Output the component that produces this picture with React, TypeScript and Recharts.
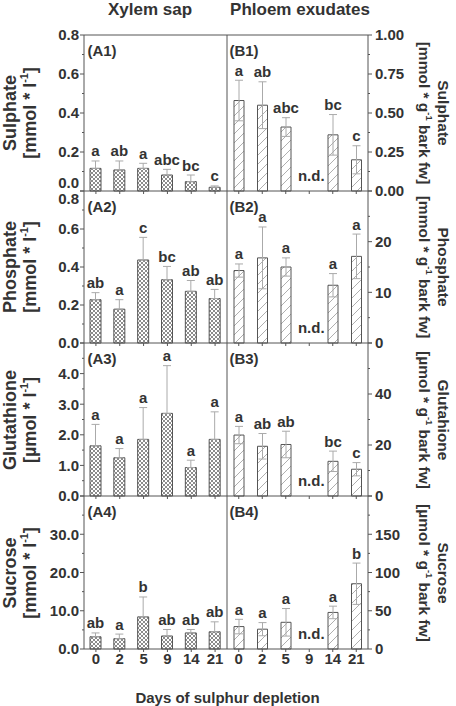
import React from "react";
import { BarChart, Bar, XAxis, YAxis, ErrorBar, LabelList, ReferenceLine } from "recharts";

const days = ["0", "2", "5", "9", "14", "21"];

// Xylem sap (left column), mean and SD
const sulphateXylem = [0.116, 0.108, 0.116, 0.082, 0.048, 0.019];
const sulphateXylemErr = [0.038, 0.046, 0.026, 0.029, 0.034, 0.007];
const sulphateXylemSig = ["a", "ab", "a", "abc", "bc", "c"];

const phosphateXylem = [0.228, 0.178, 0.437, 0.333, 0.272, 0.234];
const phosphateXylemErr = [0.037, 0.05, 0.119, 0.07, 0.057, 0.048];
const phosphateXylemSig = ["ab", "a", "c", "bc", "ab", "ab"];

const glutathioneXylem = [1.64, 1.25, 1.85, 2.7, 0.93, 1.85];
const glutathioneXylemErr = [0.7, 0.3, 1.04, 1.56, 0.24, 0.9];
const glutathioneXylemSig = ["a", "a", "a", "a", "a", "a"];

const sucroseXylem = [3.2, 2.7, 8.4, 3.4, 4.2, 4.5];
const sucroseXylemErr = [1.0, 1.2, 5.2, 1.7, 0.9, 2.6];
const sucroseXylemSig = ["ab", "a", "b", "ab", "ab", "ab"];

// Phloem exudates (right column), day 9 not determined
const sulphatePhloem = [0.58, 0.55, 0.41, null, 0.36, 0.2];
const sulphatePhloemErr = [0.13, 0.15, 0.06, null, 0.13, 0.09];
const sulphatePhloemSig = ["a", "ab", "abc", "n.d.", "bc", "c"];

const phosphatePhloem = [14.3, 16.8, 15.0, null, 11.4, 17.1];
const phosphatePhloemErr = [1.3, 6.1, 1.8, null, 2.3, 4.4];
const phosphatePhloemSig = ["a", "a", "a", "n.d.", "a", "a"];

const glutathionePhloem = [23.9, 19.5, 20.2, null, 13.6, 10.5];
const glutathionePhloemErr = [3.4, 5.0, 5.2, null, 4.0, 2.6];
const glutathionePhloemSig = ["a", "ab", "ab", "n.d.", "bc", "c"];

const sucrosePhloem = [29.3, 25.9, 34.9, null, 47.8, 85.3];
const sucrosePhloemErr = [9.5, 8.6, 18.0, null, 8.2, 27.0];
const sucrosePhloemSig = ["a", "a", "a", "n.d.", "a", "b"];

// labelled y ticks
const sulphateXylemTicks = [0, 0.2, 0.4, 0.6, 0.8];
const phosphateXylemTicks = [0, 0.2, 0.4, 0.6, 0.8];
const glutathioneXylemTicks = [0, 1, 2, 3, 4];
const sucroseXylemTicks = [0, 10, 20, 30];
const sulphatePhloemTicks = [0, 0.25, 0.5, 0.75, 1];
const phosphatePhloemTicks = [0, 10, 20];
const glutathionePhloemTicks = [0, 20, 40];
const sucrosePhloemTicks = [0, 50, 100, 150];

const FONT = '"Liberation Sans", Arial, Helvetica, sans-serif';
const INK = "#333";
const AXIS = "#555";

const ROW_TOP = [35, 191, 343, 496];
const ROW_BOTTOM = [191, 343, 496, 649];
const A_LEFT = 84;
const MID = 227;
const B_RIGHT = 368;

type Side = "A" | "B";

interface PanelProps {
  side: Side;
  row: number;
  values: (number | null)[];
  errors: (number | null)[];
  letters: string[];
  ticks: number[];
  max: number;
  decimals: number;
  nudge?: [number, number][];
}

const near = (a: number, b: number) => Math.abs(a - b) < 1e-9;

const Panel = ({ side, row, values, errors, letters, ticks, max, decimals, nudge = [] }: PanelProps) => {
  const top = ROW_TOP[row];
  const plotH = ROW_BOTTOM[row] - top;
  const last = row === 3;
  const xh = last ? 22 : 10;
  const height = plotH + 10 + xh;

  const rows = days.map((d, i) => {
    const e = errors[i];
    return {
      day: d,
      value: values[i] ?? 0,
      // xylem bars only show the upper whisker
      err: e == null ? null : side === "A" ? [0, e] : e,
      idx: i,
    };
  });

  const majors = ticks.some((t) => near(t, max)) ? ticks : [...ticks, max];
  const minors = majors.slice(1).map((t, i) => (t + majors[i]) / 2);
  const allTicks = [...majors, ...minors];

  const dir = side === "A" ? -1 : 1;

  const renderYTick = (p: any) => {
    const v = p.payload.value;
    const isMajor = majors.some((t) => near(t, v));
    const labelled = ticks.some((t) => near(t, v));
    const n = nudge.find((q) => near(q[0], v));
    return (
      <g>
        <line x1={p.x} x2={p.x + dir * (isMajor ? 4 : 2)} y1={p.y} y2={p.y} stroke={AXIS} />
        {labelled && (
          <text
            x={p.x + dir * (side === "A" ? 5 : 7)}
            y={p.y + (n ? n[1] : 0)}
            dy="0.36em"
            textAnchor={side === "A" ? "end" : "start"}
            fontFamily={FONT}
            fontWeight="bold"
            fontSize={15}
            fill={INK}
          >
            {v.toFixed(decimals)}
          </text>
        )}
      </g>
    );
  };

  // x ticks: short marks below the axis, day labels on the last row,
  // and the "n.d." note for the missing phloem sample
  const renderXTick = (p: any) => {
    const i = days.indexOf(String(p.payload.value));
    const nd = values[i] == null;
    return (
      <g>
        <line x1={p.x} x2={p.x} y1={p.y} y2={p.y + 3} stroke={AXIS} />
        {last && (
          <text x={p.x} y={p.y + 15} textAnchor="middle" fontFamily={FONT} fontWeight="bold" fontSize={15} fill={INK}>
            {p.payload.value}
          </text>
        )}
        {nd && (
          <text x={p.x + 2} y={p.y - 10} textAnchor="middle" fontFamily={FONT} fontWeight="bold" fontSize={15} fill={INK}>
            {letters[i]}
          </text>
        )}
      </g>
    );
  };

  const renderSig = (p: any) => {
    const vb = p.viewBox && p.viewBox.width != null ? p.viewBox : p;
    const i = Number(p.value);
    const v = values[i];
    if (v == null || !vb.height) return null;
    const cx = vb.x + vb.width / 2;
    const pxPerUnit = Math.abs(vb.height) / v;
    const y = vb.y - (errors[i] ?? 0) * pxPerUnit - 4.5;
    return (
      <text x={cx} y={y} textAnchor="middle" fontFamily={FONT} fontWeight="bold" fontSize={15} fill={INK}>
        {letters[i]}
      </text>
    );
  };

  const chartLeft = side === "A" ? 0 : MID - 10;
  const chartWidth = side === "A" ? 240 : 456 - chartLeft;
  const margin =
    side === "A"
      ? { top: 10, right: 240 - MID - 1, bottom: 0, left: 0 }
      : { top: 10, right: 0, bottom: 0, left: 10 };

  return (
    <div style={{ position: "absolute", left: chartLeft, top: top - 10 }}>
      <BarChart width={chartWidth} height={height} data={rows} margin={margin} barSize={side === "A" ? 11 : 10}>
        <XAxis
          dataKey="day"
          height={xh}
          interval={0}
          tickSize={0}
          tickMargin={0}
          tickLine={false}
          stroke={AXIS}
          tick={renderXTick}
        />
        <YAxis
          orientation={side === "A" ? "left" : "right"}
          width={side === "A" ? A_LEFT : 456 - B_RIGHT}
          domain={[0, max]}
          ticks={allTicks}
          interval={0}
          tickSize={0}
          tickMargin={0}
          tickLine={false}
          stroke={AXIS}
          tick={renderYTick}
        />
        {side === "A" && (
          <YAxis yAxisId="frame" orientation="right" width={1} domain={[0, 1]} tick={false} tickLine={false} stroke={AXIS} />
        )}
        {row === 0 && <ReferenceLine y={max} stroke={AXIS} ifOverflow="visible" />}
        <Bar
          dataKey="value"
          fill={side === "A" ? "url(#xhatch)" : "url(#shatch)"}
          stroke={AXIS}
          strokeWidth={1}
          isAnimationActive={false}
        >
          <ErrorBar dataKey="err" width={4} stroke="#aaa" strokeWidth={1} />
          <LabelList dataKey="idx" content={renderSig} />
        </Bar>
      </BarChart>
    </div>
  );
};

const Txt = ({
  x,
  y,
  size,
  rotate = 0,
  lineHeight = 1,
  children,
}: {
  x: number;
  y: number;
  size: number;
  rotate?: number;
  lineHeight?: number;
  children: React.ReactNode;
}) => (
  <div
    style={{
      position: "absolute",
      left: x,
      top: y,
      transform: `translate(-50%, -50%) rotate(${rotate}deg)`,
      whiteSpace: "nowrap",
      textAlign: "center",
      fontFamily: FONT,
      fontWeight: "bold",
      fontSize: size,
      lineHeight: lineHeight === 1 ? 1 : `${lineHeight}px`,
      color: INK,
    }}
  >
    {children}
  </div>
);

const Sup = ({ children }: { children: React.ReactNode }) => (
  <sup style={{ fontSize: "0.6em", lineHeight: 0, verticalAlign: "0.7em" }}>{children}</sup>
);

const rowCenter = (r: number) => (ROW_TOP[r] + ROW_BOTTOM[r]) / 2;

const leftTitles = [
  ["Sulphate", "mmol"],
  ["Phosphate", "mmol"],
  ["Glutathione", "µmol"],
  ["Sucrose", "mmol"],
];
const rightTitles = [
  ["Sulphate", "mmol"],
  ["Phosphate", "mmol"],
  ["Glutahione", "µmol"],
  ["Sucrose", "µmol"],
];

export default function App() {
  return (
    <div style={{ position: "absolute", left: 0, top: 0, width: 456, height: 706, background: "#fff" }}>
      <svg width={0} height={0} style={{ position: "absolute" }}>
        <defs>
          <pattern id="xhatch" width={4} height={4} patternUnits="userSpaceOnUse">
            <rect width={4} height={4} fill="#fff" />
            <path d="M0,0 L4,4 M4,0 L0,4" stroke="#6e6e6e" strokeWidth={0.8} />
          </pattern>
          <pattern id="shatch" width={9} height={9} patternUnits="userSpaceOnUse">
            <rect width={9} height={9} fill="#fff" />
            <path d="M0,9 L9,0 M-1,1 L1,-1 M8,10 L10,8" stroke="#9a9a9a" strokeWidth={0.8} />
          </pattern>
        </defs>
      </svg>

      <Panel side="A" row={0} values={sulphateXylem} errors={sulphateXylemErr} letters={sulphateXylemSig}
        ticks={sulphateXylemTicks} max={0.8} decimals={1} nudge={[[0, -8]]} />
      <Panel side="A" row={1} values={phosphateXylem} errors={phosphateXylemErr} letters={phosphateXylemSig}
        ticks={phosphateXylemTicks} max={0.8} decimals={1} nudge={[[0.8, 8]]} />
      <Panel side="A" row={2} values={glutathioneXylem} errors={glutathioneXylemErr} letters={glutathioneXylemSig}
        ticks={glutathioneXylemTicks} max={5} decimals={1} />
      <Panel side="A" row={3} values={sucroseXylem} errors={sucroseXylemErr} letters={sucroseXylemSig}
        ticks={sucroseXylemTicks} max={40} decimals={1} />

      <Panel side="B" row={0} values={sulphatePhloem} errors={sulphatePhloemErr} letters={sulphatePhloemSig}
        ticks={sulphatePhloemTicks} max={1} decimals={2} />
      <Panel side="B" row={1} values={phosphatePhloem} errors={phosphatePhloemErr} letters={phosphatePhloemSig}
        ticks={phosphatePhloemTicks} max={30} decimals={0} />
      <Panel side="B" row={2} values={glutathionePhloem} errors={glutathionePhloemErr} letters={glutathionePhloemSig}
        ticks={glutathionePhloemTicks} max={60} decimals={0} />
      <Panel side="B" row={3} values={sucrosePhloem} errors={sucrosePhloemErr} letters={sucrosePhloemSig}
        ticks={sucrosePhloemTicks} max={200} decimals={0} />

      <Txt x={150} y={9} size={17}>Xylem sap</Txt>
      <Txt x={300} y={9} size={17}>Phloem exudates</Txt>
      <Txt x={227.5} y={697} size={15}>Days of sulphur depletion</Txt>

      {["(A1)", "(A2)", "(A3)", "(A4)"].map((t, r) => (
        <Txt key={t} x={A_LEFT + 18} y={ROW_TOP[r] + 15} size={15}>{t}</Txt>
      ))}
      {["(B1)", "(B2)", "(B3)", "(B4)"].map((t, r) => (
        <Txt key={t} x={MID + 17} y={ROW_TOP[r] + 15} size={15}>{t}</Txt>
      ))}

      {leftTitles.map(([name, unit], r) => (
        <Txt key={"l" + r} x={20} y={rowCenter(r)} size={18} rotate={-90} lineHeight={20}>
          {name}
          <br />[{unit} * l<Sup>-1</Sup>]
        </Txt>
      ))}
      {rightTitles.map(([name, unit], r) => (
        <Txt key={"r" + r} x={434} y={rowCenter(r)} size={15.5} rotate={90} lineHeight={19}>
          {name}
          <br />[{unit} * g<Sup>-1</Sup> bark fw]
        </Txt>
      ))}
    </div>
  );
}
